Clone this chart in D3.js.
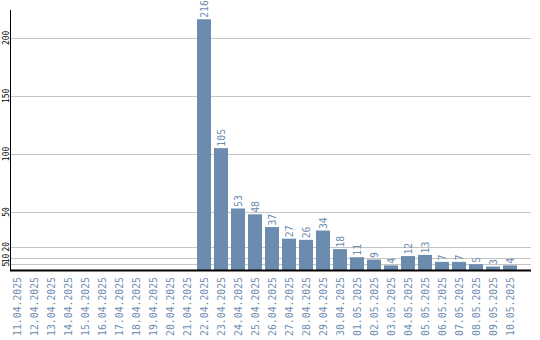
<!DOCTYPE html>
<html>
<head>
<meta charset="utf-8">
<script src="https://cdn.jsdelivr.net/npm/d3@7"></script>
<style>
  body { margin: 0; background: #fff; }
  svg { display: block; }
</style>
</head>
<body>
<div id="chart"></div>
<script>
// Data.
var dates = ["11.04.2025", "12.04.2025", "13.04.2025", "14.04.2025", "15.04.2025",
  "16.04.2025", "17.04.2025", "18.04.2025", "19.04.2025", "20.04.2025",
  "21.04.2025", "22.04.2025", "23.04.2025", "24.04.2025", "25.04.2025",
  "26.04.2025", "27.04.2025", "28.04.2025", "29.04.2025", "30.04.2025",
  "01.05.2025", "02.05.2025", "03.05.2025", "04.05.2025", "05.05.2025",
  "06.05.2025", "07.05.2025", "08.05.2025", "09.05.2025", "10.05.2025"];
var counts = [0, 0, 0, 0, 0, 0, 0, 0, 0, 0,
  0, 216, 105, 53, 48, 37, 27, 26, 34, 18,
  11, 9, 4, 12, 13, 7, 7, 5, 3, 4];
var yTicks = [5, 10, 20, 50, 100, 150, 200];

// Layout parameters.
var svgWidth = 540;
var svgHeight = 340;
var plot = { left: 11, right: 531, top: 10, bottom: 270 };
var barColor = "#6b8cae";
var textColor = "#6d8db0";
var labelFont = "DejaVu Sans Mono, monospace";

var data = dates.map((d, i) => ({ date: d, value: counts[i] }));

var svg = d3.select("#chart")
  .append("svg")
  .attr("width", svgWidth)
  .attr("height", svgHeight);

// Scales.
var xScale = d3.scaleBand()
  .domain(dates)
  .range([10, 10 + 30 * 17 - 3])
  .paddingInner(3 / 17)
  .paddingOuter(0);

var yScale = d3.scaleLinear()
  .domain([0, 224])
  .range([plot.bottom, plot.top]);

// Gridlines.
svg.append("g")
  .selectAll("line")
  .data(yTicks)
  .enter()
  .append("line")
  .attr("x1", plot.left)
  .attr("x2", plot.right)
  .attr("y1", d => Math.round(yScale(d)) + 0.5)
  .attr("y2", d => Math.round(yScale(d)) + 0.5)
  .attr("stroke", "#c4c4c4")
  .attr("stroke-width", 1);

// Y tick labels (rotated).
svg.append("g")
  .selectAll("text")
  .data(yTicks)
  .enter()
  .append("text")
  .attr("transform", d => `translate(6, ${yScale(d)}) rotate(-90)`)
  .attr("text-anchor", "middle")
  .attr("dominant-baseline", "central")
  .attr("font-family", labelFont)
  .attr("font-size", "8px")
  .attr("fill", "#000")
  .text(d => d);

// Bars.
svg.append("g")
  .selectAll("rect")
  .data(data.filter(d => d.value > 0))
  .enter()
  .append("rect")
  .attr("x", d => xScale(d.date))
  .attr("y", d => yScale(d.value))
  .attr("width", xScale.bandwidth())
  .attr("height", d => yScale(0) - yScale(d.value))
  .attr("fill", barColor);

// Value labels above bars (tall, narrow glyphs).
svg.append("g")
  .selectAll("text")
  .data(data.filter(d => d.value > 0))
  .enter()
  .append("text")
  .attr("transform", d => `translate(${xScale(d.date) + xScale.bandwidth() / 2}, ${yScale(d.value) - 1.5}) rotate(-90) scale(0.89, 1)`)
  .attr("text-anchor", "start")
  .attr("dominant-baseline", "central")
  .attr("font-family", labelFont)
  .attr("font-size", "11px")
  .attr("fill", textColor)
  .text(d => d.value);

// Axes lines.
svg.append("line")
  .attr("x1", plot.left - 0.5)
  .attr("x2", plot.left - 0.5)
  .attr("y1", plot.top)
  .attr("y2", plot.bottom + 1)
  .attr("stroke", "#000")
  .attr("stroke-width", 1);

svg.append("line")
  .attr("x1", plot.left - 1)
  .attr("x2", plot.right)
  .attr("y1", plot.bottom + 0.5)
  .attr("y2", plot.bottom + 0.5)
  .attr("stroke", "#000")
  .attr("stroke-width", 2);

// X labels (rotated dates).
svg.append("g")
  .selectAll("text")
  .data(dates)
  .enter()
  .append("text")
  .attr("transform", d => `translate(${xScale(d) + xScale.bandwidth() / 2}, 277) rotate(-90) scale(0.89, 1)`)
  .attr("text-anchor", "end")
  .attr("dominant-baseline", "central")
  .attr("font-family", labelFont)
  .attr("font-size", "11px")
  .attr("fill", textColor)
  .text(d => d);
</script>
</body>
</html>
